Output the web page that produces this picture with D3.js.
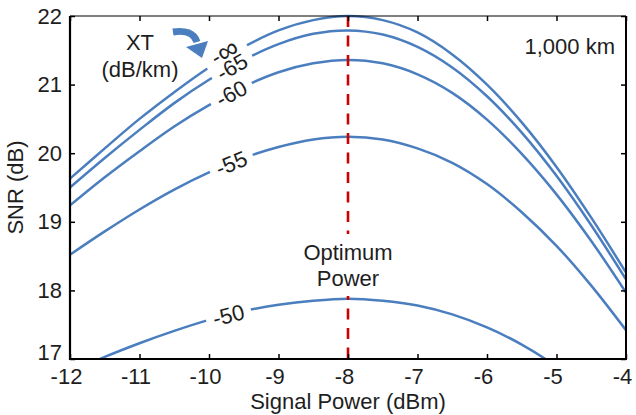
<!DOCTYPE html>
<html>
<head>
<meta charset="utf-8">
<script src="https://cdn.jsdelivr.net/npm/d3@7"></script>
<style>
body { margin: 0; background: #fff; }
text { font-family: "Liberation Sans", Arial, sans-serif; fill: #1e1e1e; }
</style>
</head>
<body>
<script>
// signal power (dBm) sampled every 0.5 dB
var power = [-12, -11.5, -11, -10.5, -10, -9.5, -9, -8.5, -8, -7.5, -7, -6.5, -6, -5.5, -5, -4.5, -4];

// SNR (dB) for each crosstalk level
var snrInf = [19.63, 20.07, 20.50, 20.89, 21.25, 21.55, 21.79, 21.94, 22.00, 21.94, 21.76, 21.44, 21.00, 20.45, 19.80, 19.06, 18.26];
var snr65  = [19.50, 19.93, 20.34, 20.73, 21.07, 21.36, 21.59, 21.74, 21.79, 21.73, 21.55, 21.25, 20.83, 20.30, 19.67, 18.95, 18.16];
var snr60  = [19.24, 19.65, 20.03, 20.39, 20.70, 20.97, 21.18, 21.31, 21.36, 21.31, 21.15, 20.88, 20.49, 19.99, 19.40, 18.72, 17.97];
var snr55  = [18.52, 18.86, 19.18, 19.47, 19.72, 19.93, 20.09, 20.20, 20.24, 20.20, 20.07, 19.86, 19.55, 19.14, 18.65, 18.07, 17.42];
var snr50  = [16.80, 17.03, 17.23, 17.41, 17.57, 17.70, 17.79, 17.85, 17.88, 17.85, 17.78, 17.65, 17.46, 17.21, 16.89, 16.49, 16.03];

var xtLevels = ['-\u221e', '-65', '-60', '-55', '-50'];
var labelPower = [-9.74, -9.67, -9.68, -9.68, -9.72];
var optimumPower = -8;

var xTicks = [-12, -11, -10, -9, -8, -7, -6, -5, -4];
var yTicks = [17, 18, 19, 20, 21, 22];

var series = [snrInf, snr65, snr60, snr55, snr50];

var width = 636,
    height = 415,
    margin = { top: 16, right: 10, bottom: 56, left: 70 };

var svg = d3.select('body').append('svg')
    .attr('width', width)
    .attr('height', height);

width = width - margin.left - margin.right;
height = height - margin.top - margin.bottom;

var x = d3.scaleLinear().domain([-12, -4]).range([0, width]),
    y = d3.scaleLinear().domain([17, 22]).range([height, 0]);

var blue = '#4a7ebf',
    red = '#cc0000',
    fontSize = '22px';

var g = svg.append('g')
    .attr('transform', 'translate(' + margin.left + ',' + margin.top + ')');

svg.append('defs').append('clipPath').attr('id', 'plot')
  .append('rect').attr('x', 0).attr('y', -3).attr('width', width).attr('height', height + 3);

var line = d3.line()
    .x(function(d, i) { return x(power[i]); })
    .y(function(d) { return y(d); })
    .curve(d3.curveCatmullRom);

var lines = g.append('g').attr('clip-path', 'url(#plot)');
lines.selectAll('path')
  .data(series)
  .enter().append('path')
    .attr('d', line)
    .attr('fill', 'none')
    .attr('stroke', blue)
    .attr('stroke-width', 2.5);

// inline labels, sitting in a gap cut out of each curve
function labelPos(values, p) {
  var i = d3.bisectRight(power, p) - 1;
  var t = (p - power[i]) / (power[i + 1] - power[i]);
  var v = values[i] + t * (values[i + 1] - values[i]);
  var dx = x(power[i + 1]) - x(power[i]),
      dy = y(values[i + 1]) - y(values[i]);
  return { x: x(p), y: y(v), angle: Math.atan2(dy, dx) * 180 / Math.PI };
}

var labels = g.selectAll('.xt-label')
  .data(series)
  .enter().append('g')
    .attr('class', 'xt-label')
    .attr('transform', function(d, i) {
      var p = labelPos(d, labelPower[i]);
      return 'translate(' + p.x + ',' + p.y + ') rotate(' + p.angle + ')';
    });

labels.append('rect')
    .attr('x', -23).attr('y', -5)
    .attr('width', 46).attr('height', 10)
    .attr('fill', '#fff');

var labelText = labels.append('text')
    .attr('text-anchor', 'middle')
    .attr('dy', function(d, i) { return i === 0 ? '0.1em' : '0.36em'; })
    .style('font-size', fontSize);

labelText.append('tspan')
    .text(function(d, i) { return xtLevels[i].charAt(0); });
// the infinity sign is drawn larger so it matches the digits
labelText.append('tspan')
    .style('font-size', function(d, i) { return i === 0 ? '29px' : null; })
    .attr('dy', function(d, i) { return i === 0 ? 2 : null; })
    .text(function(d, i) { return xtLevels[i].slice(1); });

// optimum power marker
g.append('line')
    .attr('x1', x(optimumPower)).attr('x2', x(optimumPower))
    .attr('y1', 0).attr('y2', height)
    .attr('stroke', red)
    .attr('stroke-width', 2.6)
    .attr('stroke-dasharray', '11,8.5');

g.append('rect')
    .attr('x', x(optimumPower) - 5).attr('y', 218)
    .attr('width', 10).attr('height', 62)
    .attr('fill', '#fff');

var opt = g.append('text')
    .attr('text-anchor', 'middle')
    .attr('x', x(optimumPower))
    .attr('y', 244)
    .style('font-size', fontSize);
opt.append('tspan').attr('x', x(optimumPower)).text('Optimum');
opt.append('tspan').attr('x', x(optimumPower)).attr('dy', 26).text('Power');

// annotations
g.append('text')
    .attr('text-anchor', 'end')
    .attr('x', width - 11)
    .attr('y', 38)
    .style('font-size', fontSize)
    .text('1,000 km');

g.append('text')
    .attr('text-anchor', 'middle')
    .attr('x', 70).attr('y', 34)
    .style('font-size', fontSize)
    .text('XT');

g.append('text')
    .attr('text-anchor', 'middle')
    .attr('x', 70).attr('y', 61)
    .style('font-size', fontSize)
    .text('(dB/km)');

// curved arrow pointing at the labels
g.append('path')
    .attr('d', 'M103,16 C115,14 124,17 127,26')
    .attr('fill', 'none')
    .attr('stroke', blue)
    .attr('stroke-width', 7);

g.append('path')
    .attr('d', 'M116,31 L138,25 L132,42 Z')
    .attr('fill', blue);

// axes
var fmt = function(d) { return String(d); };

var xAxis = g.append('g')
    .attr('transform', 'translate(0,' + height + ')')
    .call(d3.axisBottom(x).tickValues(xTicks).tickFormat(fmt)
      .tickSizeInner(-5).tickSizeOuter(0).tickPadding(9));

var xTop = g.append('g')
    .call(d3.axisTop(x).tickValues(xTicks).tickSizeInner(-5).tickSizeOuter(0).tickFormat(''));

var yAxis = g.append('g')
    .call(d3.axisLeft(y).tickValues(yTicks).tickFormat(fmt)
      .tickSizeInner(-5).tickSizeOuter(0).tickPadding(8));

var yRight = g.append('g')
    .attr('transform', 'translate(' + width + ',0)')
    .call(d3.axisRight(y).tickValues(yTicks).tickSizeInner(-5).tickSizeOuter(0).tickFormat(''));

[xAxis, xTop, yAxis, yRight].forEach(function(a) {
  a.select('.domain').remove();
  a.selectAll('line').attr('stroke', '#000').attr('stroke-width', 1.5);
  a.selectAll('text')
    .style('font-size', fontSize)
    .style('font-family', '"Liberation Sans", Arial, sans-serif')
    .attr('fill', '#1e1e1e');
});

xAxis.selectAll('text').attr('dx', -4);
// the bottom y label is lifted clear of the x labels
yAxis.selectAll('.tick').filter(function(d) { return d === 17; })
  .select('text').attr('dy', '0.0em');

// plot frame
g.append('line').attr('x1', 0).attr('x2', width).attr('y1', 0).attr('y2', 0)
    .attr('stroke', '#000').attr('stroke-width', 1.2);
g.append('line').attr('x1', width).attr('x2', width).attr('y1', 0).attr('y2', height)
    .attr('stroke', '#000').attr('stroke-width', 2);
g.append('line').attr('x1', 0).attr('x2', 0).attr('y1', 0).attr('y2', height + 1)
    .attr('stroke', '#000').attr('stroke-width', 2.2);
g.append('line').attr('x1', -1).attr('x2', width + 1).attr('y1', height).attr('y2', height)
    .attr('stroke', '#000').attr('stroke-width', 2.2);

// axis titles
g.append('text')
    .attr('text-anchor', 'middle')
    .attr('x', width / 2)
    .attr('y', height + 50)
    .style('font-size', fontSize)
    .text('Signal Power (dBm)');

g.append('text')
    .attr('text-anchor', 'middle')
    .attr('transform', 'translate(' + (-47) + ',' + (height / 2) + ') rotate(-90)')
    .style('font-size', fontSize)
    .text('SNR (dB)');
</script>
</body>
</html>
